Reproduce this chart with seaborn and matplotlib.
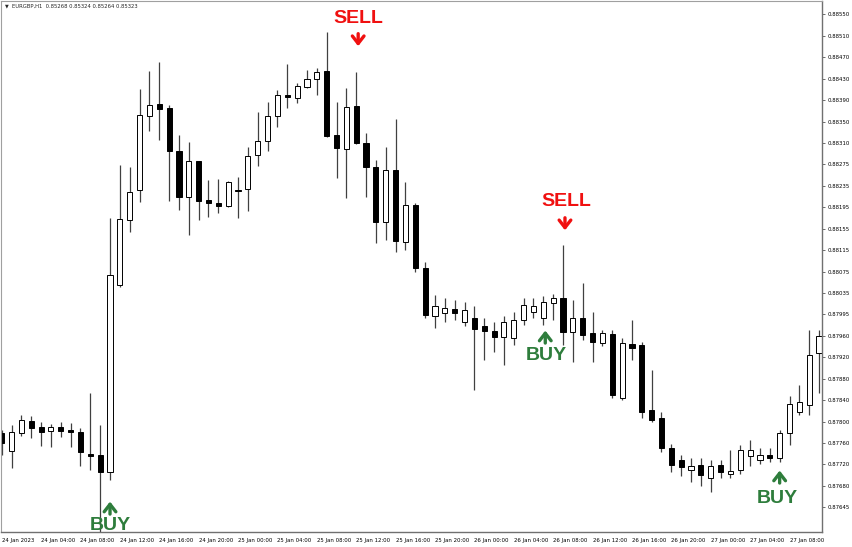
import numpy as np
import pandas as pd
import matplotlib
matplotlib.use("Agg")
import matplotlib.pyplot as plt
import seaborn as sns

# EURGBP H1 candles
open_ = [0.87781, 0.87748, 0.87781, 0.87803, 0.87792, 0.87785, 0.87792, 0.87787, 0.87783, 0.87743,
         0.87741, 0.87710, 0.88053, 0.88172, 0.88227, 0.88363, 0.88385, 0.88378, 0.88299, 0.88215,
         0.88281, 0.88209, 0.88204, 0.88198, 0.88228, 0.88229, 0.88292, 0.88317, 0.88363, 0.88402,
         0.88396, 0.88417, 0.88431, 0.88446, 0.88328, 0.88303, 0.88382, 0.88314, 0.88270, 0.88169,
         0.88264, 0.88132, 0.88200, 0.88084, 0.87996, 0.88002, 0.88009, 0.87985, 0.87992, 0.87978,
         0.87969, 0.87958, 0.87956, 0.87989, 0.88004, 0.87992, 0.88020, 0.88029, 0.87967, 0.87992,
         0.87965, 0.87947, 0.87963, 0.87846, 0.87945, 0.87943, 0.87824, 0.87809, 0.87754, 0.87732,
         0.87713, 0.87723, 0.87699, 0.87723, 0.87706, 0.87713, 0.87739, 0.87732, 0.87741, 0.87735,
         0.87781, 0.87820, 0.87833, 0.87928]
high = [0.87787, 0.87796, 0.87814, 0.87812, 0.87801, 0.87798, 0.87801, 0.87800, 0.87790, 0.87855,
        0.87796, 0.88176, 0.88273, 0.88270, 0.88413, 0.88446, 0.88462, 0.88384, 0.88328, 0.88316,
        0.88281, 0.88246, 0.88248, 0.88244, 0.88251, 0.88306, 0.88371, 0.88389, 0.88411, 0.88459,
        0.88424, 0.88448, 0.88451, 0.88518, 0.88389, 0.88415, 0.88444, 0.88332, 0.88283, 0.88306,
        0.88358, 0.88242, 0.88204, 0.88095, 0.88035, 0.88029, 0.88026, 0.88022, 0.88015, 0.87992,
        0.87985, 0.87996, 0.88004, 0.88029, 0.88029, 0.88033, 0.88037, 0.88127, 0.88026, 0.88057,
        0.88004, 0.87970, 0.87970, 0.87956, 0.87989, 0.87948, 0.87897, 0.87820, 0.87761, 0.87741,
        0.87735, 0.87735, 0.87732, 0.87732, 0.87750, 0.87759, 0.87768, 0.87754, 0.87754, 0.87787,
        0.87849, 0.87869, 0.87970, 0.87970]
low = [0.87741, 0.87717, 0.87776, 0.87772, 0.87757, 0.87756, 0.87774, 0.87756, 0.87721, 0.87713,
       0.87598, 0.87695, 0.88049, 0.88150, 0.88205, 0.88336, 0.88319, 0.88207, 0.88191, 0.88145,
       0.88172, 0.88178, 0.88185, 0.88196, 0.88176, 0.88189, 0.88272, 0.88299, 0.88343, 0.88378,
       0.88387, 0.88415, 0.88402, 0.88325, 0.88250, 0.88213, 0.88312, 0.88215, 0.88130, 0.88136,
       0.88114, 0.88117, 0.88077, 0.87992, 0.87974, 0.87985, 0.87989, 0.87978, 0.87860, 0.87915,
       0.87930, 0.87906, 0.87943, 0.87980, 0.87992, 0.87980, 0.87989, 0.87943, 0.87912, 0.87952,
       0.87912, 0.87941, 0.87846, 0.87842, 0.87915, 0.87809, 0.87802, 0.87746, 0.87710, 0.87702,
       0.87691, 0.87684, 0.87673, 0.87699, 0.87699, 0.87706, 0.87721, 0.87724, 0.87728, 0.87728,
       0.87759, 0.87814, 0.87814, 0.87855]
close = [0.87763, 0.87783, 0.87805, 0.87790, 0.87783, 0.87792, 0.87785, 0.87783, 0.87746, 0.87739,
         0.87710, 0.88071, 0.88174, 0.88224, 0.88365, 0.88384, 0.88376, 0.88299, 0.88215, 0.88281,
         0.88207, 0.88204, 0.88198, 0.88242, 0.88226, 0.88290, 0.88317, 0.88363, 0.88402, 0.88398,
         0.88418, 0.88431, 0.88444, 0.88327, 0.88305, 0.88380, 0.88314, 0.88270, 0.88169, 0.88264,
         0.88134, 0.88200, 0.88084, 0.87998, 0.88015, 0.88011, 0.88002, 0.88007, 0.87972, 0.87969,
         0.87958, 0.87985, 0.87989, 0.88016, 0.88015, 0.88022, 0.88029, 0.87967, 0.87992, 0.87961,
         0.87948, 0.87965, 0.87851, 0.87947, 0.87937, 0.87820, 0.87805, 0.87754, 0.87723, 0.87719,
         0.87721, 0.87704, 0.87721, 0.87710, 0.87712, 0.87750, 0.87750, 0.87741, 0.87735, 0.87781,
         0.87835, 0.87838, 0.87925, 0.87959]

price_labels = ["0.88550", "0.88510", "0.88470", "0.88430", "0.88390", "0.88350", "0.88310",
                "0.88275", "0.88235", "0.88195", "0.88155", "0.88115", "0.88075", "0.88035",
                "0.87995", "0.87960", "0.87920", "0.87880", "0.87840", "0.87800", "0.87760",
                "0.87720", "0.87680", "0.87645"]

# signal labels: text, candle position, price of text, price of arrow centre
signal_text = ["SELL", "SELL", "BUY", "BUY", "BUY"]
signal_pos = [36.2, 57.3, 11.0, 55.3, 78.8]
signal_price = [0.88542, 0.88207, 0.87612, 0.87923, 0.87662]
arrow_pos = [36.2, 57.2, 11.0, 55.2, 79.0]
arrow_price = [0.88503, 0.88165, 0.87644, 0.87958, 0.87701]

header = "EURGBP,H1  0.85268 0.85324 0.85264 0.85323"

df = pd.DataFrame({"open": open_, "high": high, "low": low, "close": close})
df["time"] = pd.date_range("2023-01-24 00:00", periods=len(df), freq="h")
df["x"] = np.arange(len(df))
df["bull"] = df["close"] >= df["open"]

sns.set_theme(style="white")
plt.rcParams["font.family"] = ["DejaVu Sans"]

fig = plt.figure(figsize=(8.52, 5.47), dpi=100)
ax = fig.add_axes([1 / 852, 15 / 547, 821 / 852, 531 / 547])

# wicks
ax.vlines(df["x"], df["low"], df["high"], color="#404040", linewidth=0.9, zorder=1)

# bodies
body_bottom = df[["open", "close"]].min(axis=1)
body_height = (df["close"] - df["open"]).abs().clip(lower=0.000008)
ax.bar(df["x"], body_height, bottom=body_bottom, width=0.52,
       color=np.where(df["bull"], "white", "black"), edgecolor="black",
       linewidth=0.7, zorder=2)

# signals
half = 0.000115  # half arrow length in price units
for txt, xp, yp, xa, ya in zip(signal_text, signal_pos, signal_price, arrow_pos, arrow_price):
    col = "#f01010" if txt == "SELL" else "#2e7d3c"
    ax.text(xp, yp, txt, color=col, fontsize=14, fontweight="bold",
            family="Liberation Sans", ha="center", va="center", clip_on=False, zorder=5)
    sgn = -1 if txt == "SELL" else 1
    ax.annotate("", xy=(xa, ya + sgn * half), xytext=(xa, ya - sgn * half),
                arrowprops=dict(arrowstyle="->,head_length=0.45,head_width=0.35",
                                color=col, lw=2.4, shrinkA=0, shrinkB=0),
                annotation_clip=False, zorder=5)

ax.set_xlim(-0.07, 83.3)
ax.set_ylim(0.875996, 0.885745)

# price axis on the right
ax.yaxis.tick_right()
ax.set_yticks(np.linspace(0.88550, 0.87645, len(price_labels)))
ax.set_yticklabels(price_labels)

# time axis, one label every four hours
tick_idx = df["x"][::4]
time_labels = [t.strftime("%d %b %H:%M") for t in df["time"][::4]]
time_labels[0] = df["time"][0].strftime("%d %b %Y")
ax.set_xticks(tick_idx)
ax.set_xticklabels(time_labels, ha="left")

ax.tick_params(axis="both", direction="out", length=2.5, width=0.6, color="#555555",
               labelsize=3.9, pad=1.5, labelcolor="black")
ax.tick_params(axis="x", pad=2)

for side in ["left", "top"]:
    ax.spines[side].set_color("#a0a0a0")
    ax.spines[side].set_linewidth(0.8)
for side in ["right", "bottom"]:
    ax.spines[side].set_color("#707070")
    ax.spines[side].set_linewidth(1.0)
ax.grid(False)

# header in the top left corner
fig.text(5 / 852, 1 - 6 / 547, "▼", fontsize=3.5, va="center", ha="left")
fig.text(12 / 852, 1 - 6 / 547, header, fontsize=3.8, va="center", ha="left")

fig.savefig("out.png", dpi=100, facecolor="white")
